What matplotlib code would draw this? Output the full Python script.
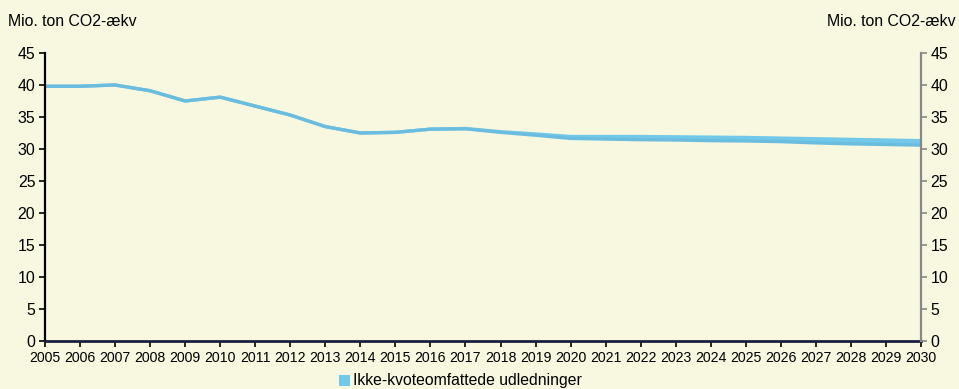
import numpy as np
import matplotlib.pyplot as plt
from matplotlib.patches import Patch

plt.rcParams['font.family'] = ['Liberation Sans', 'DejaVu Sans']

# Ikke-kvoteomfattede udledninger, Mio. ton CO2-aekv (band: low / high)
years = list(range(2005, 2031))
upper = [39.8, 39.8, 40.0, 39.1, 37.5, 38.1, 36.7, 35.3, 33.5, 32.5,
         32.6, 33.1, 33.2, 32.7, 32.35, 31.95, 31.95, 31.95, 31.9, 31.85,
         31.8, 31.7, 31.6, 31.5, 31.4, 31.3]
lower = [39.8, 39.8, 40.0, 39.1, 37.5, 38.1, 36.7, 35.3, 33.5, 32.5,
         32.6, 33.1, 33.15, 32.6, 32.15, 31.65, 31.55, 31.45, 31.4, 31.3,
         31.25, 31.15, 30.95, 30.8, 30.7, 30.6]
yticks = list(range(0, 50, 5))
unit = 'Mio. ton CO2-ækv'
series_name = 'Ikke-kvoteomfattede udledninger'

bg = '#F8F8E1'
blue = '#72C8E8'

fig = plt.figure(figsize=(9.59, 3.89), dpi=100, facecolor=bg)
ax = fig.add_axes([0.0469, 0.1234, 0.9135, 0.7404], facecolor=bg)

ax.fill_between(years, lower, upper, color=blue, linewidth=0)
ax.plot(years, upper, color=blue, lw=2.4, solid_joinstyle='round')
ax.plot(years, lower, color='#6BBDE0', lw=2.4, solid_joinstyle='round')

ax.set_xlim(2005, 2030)
ax.set_ylim(0, 45)
ax.set_xticks(years)
ax.set_xticklabels([str(y) for y in years], fontsize=10.2)
ax.set_yticks(yticks)
ax.set_yticklabels([str(v) for v in yticks], fontsize=11.4)
ax.tick_params(axis='y', direction='out', length=4, width=1.2, color='black', pad=3)
ax.tick_params(axis='x', direction='out', length=4, width=1.2, color='black', pad=3)

ax.spines['top'].set_visible(False)
ax.spines['right'].set_visible(False)
ax.spines['left'].set_color('black')
ax.spines['left'].set_linewidth(1.6)
ax.spines['bottom'].set_color('#1B1F3F')
ax.spines['bottom'].set_linewidth(2)

# right-hand axis, same scale
ax2 = ax.twinx()
ax2.set_ylim(0, 45)
ax2.set_yticks(yticks)
ax2.set_yticklabels([str(v) for v in yticks], fontsize=11.4)
ax2.tick_params(axis='y', direction='out', length=4, width=1.2, color='#888888', pad=3)
for s in ['top', 'left', 'bottom']:
    ax2.spines[s].set_visible(False)
ax2.spines['right'].set_color('#888888')
ax2.spines['right'].set_linewidth(1.6)

fig.text(8 / 959, 1 - 22 / 389, unit, fontsize=11.4, ha='left', va='center')
fig.text(956 / 959, 1 - 22 / 389, unit, fontsize=11.4, ha='right', va='center')

fig.legend(handles=[Patch(facecolor=blue, edgecolor='none', label=series_name)],
           loc='center', bbox_to_anchor=(0.48, 1 - 381 / 389), frameon=False,
           fontsize=11.3, handlelength=0.7, handleheight=0.7, handletextpad=0.2,
           borderpad=0)

fig.savefig('out.png', dpi=100, facecolor=bg)
